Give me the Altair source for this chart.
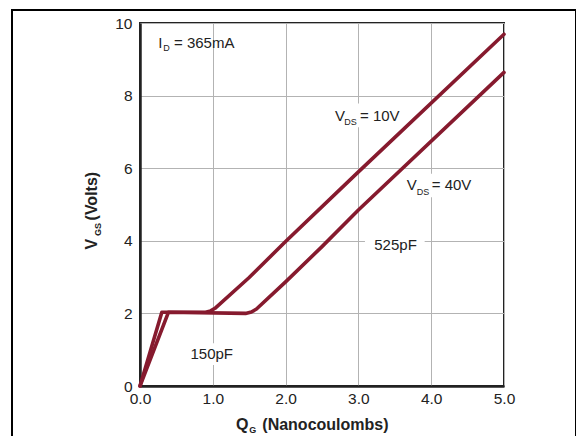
import altair as alt
import pandas as pd

# Gate charge curves
qg_10v = [0.0, 0.30, 0.90, 0.97, 1.03, 1.5, 2.0, 3.0, 5.0]
vgs_10v = [0.0, 2.03, 2.03, 2.07, 2.14, 2.99, 3.98, 5.90, 9.69]
qg_40v = [0.0, 0.39, 1.45, 1.53, 1.60, 2.0, 2.5, 3.0, 5.0]
vgs_40v = [0.0, 2.03, 2.0, 2.04, 2.12, 2.87, 3.84, 4.85, 8.64]

x_grid = [0.0, 0.5, 1.0, 1.5, 2.0, 2.5, 3.0, 3.5, 4.0, 4.5, 5.0]
y_grid = [0, 1, 2, 3, 4, 5, 6, 7, 8, 9, 10]

rows = []
for i, (q, v) in enumerate(zip(qg_10v, vgs_10v)):
    rows.append({"series": "VDS = 10V", "q": q, "v": v, "o": i})
for i, (q, v) in enumerate(zip(qg_40v, vgs_40v)):
    rows.append({"series": "VDS = 40V", "q": q, "v": v, "o": i})
curves = pd.DataFrame(rows)

FONT = "Liberation Sans"
RED = "#861a2e"
TXT = "#222222"

xs = alt.Scale(domain=[0, 5], nice=False, zero=False)
ys = alt.Scale(domain=[0, 10], nice=False, zero=False)

# white label boxes
boxes = pd.DataFrame({
    "x1": [2.63, 3.60, 3.09, 0.55],
    "x2": [3.58, 4.60, 3.91, 1.44],
    "y1": [7.13, 5.20, 3.62, 0.58],
    "y2": [7.78, 5.85, 4.14, 1.18],
})

# annotation texts (main size)
labels_main = pd.DataFrame({
    "t": ["I", "= 365mA", "V", "= 10V", "V", "= 40V"],
    "x": [0.251, 0.467, 2.679, 3.022, 3.663, 4.007],
    "y": [9.457, 9.457, 7.45, 7.45, 5.54, 5.54],
})
labels_sub = pd.DataFrame({
    "t": ["D", "DS", "DS"],
    "x": [0.32, 2.806, 3.80],
    "y": [9.30, 7.28, 5.35],
})
labels_center = pd.DataFrame({
    "t": ["525pF", "150pF"],
    "x": [3.51, 0.985],
    "y": [3.88, 0.88],
})

xtitle_main = pd.DataFrame({"t": ["Q", "(Nanocoulombs)"], "x": [1.32, 1.68], "y": [-1.08, -1.08]})
xtitle_sub = pd.DataFrame({"t": ["G"], "x": [1.50], "y": [-1.20]})
ytitle_main = pd.DataFrame({"t": ["V", "(Volts)"], "x": [-0.659, -0.659], "y": [3.91, 5.23]})
ytitle_sub = pd.DataFrame({"t": ["GS"], "x": [-0.573], "y": [4.31]})

base_x = alt.X("q:Q", scale=xs, title=None,
               axis=alt.Axis(values=x_grid, grid=True,
                             labelExpr="round(datum.value*2) % 2 == 0 ? format(datum.value, '.1f') : ''"))
base_y = alt.Y("v:Q", scale=ys, title=None,
               axis=alt.Axis(values=y_grid, grid=True,
                             labelExpr="datum.value % 2 == 0 ? datum.label : ''"))

lines = alt.Chart(curves).mark_line(color=RED, strokeWidth=3.6, strokeJoin="round", strokeCap="round").encode(
    x=base_x, y=base_y, detail="series:N", order="o:Q"
)

frame = alt.Chart(pd.DataFrame({"a": [0]})).mark_rect(fill=None, stroke="black", strokeWidth=2).encode(
    x=alt.value(-128), x2=alt.value(436), y=alt.value(-13), y2=alt.value(520)
)

rects = alt.Chart(boxes).mark_rect(fill="white").encode(
    x=alt.X("x1:Q", scale=xs), x2="x2:Q", y=alt.Y("y1:Q", scale=ys), y2="y2:Q"
)

def txt(df, size, align="left", bold=False, angle=0):
    kw = dict(font=FONT, fontSize=size, color=TXT, align=align, baseline="middle")
    if bold:
        kw["fontWeight"] = "bold"
    if angle:
        kw["angle"] = angle
    return alt.Chart(df).mark_text(**kw).encode(
        x=alt.X("x:Q", scale=xs), y=alt.Y("y:Q", scale=ys), text="t:N"
    )

chart = alt.layer(
    lines,
    rects,
    txt(labels_main, 15),
    txt(labels_sub, 9),
    txt(labels_center, 15, align="center"),
    txt(xtitle_main, 16, bold=True),
    txt(xtitle_sub, 9, bold=True),
    txt(ytitle_main, 16, align="center", bold=True, angle=270),
    txt(ytitle_sub, 9, align="center", bold=True, angle=270),
    frame,
).properties(
    width=364, height=363,
    autosize=alt.AutoSizeParams(type="none"),
    padding={"left": 132, "top": 15, "right": 72, "bottom": 50},
).configure_view(
    stroke="#222222", strokeWidth=2
).configure_axis(
    domainColor="#222222", domainWidth=2.5,
    gridColor="#b3b3b3", gridWidth=1,
    ticks=False, labelFlush=False,
    labelFont=FONT, labelFontSize=15.5, labelColor=TXT,
    labelPadding=8, labelOverlap=False,
).configure_axisX(labelPadding=5)

chart.save("out.html", embed_options={"renderer": "svg", "actions": False})
